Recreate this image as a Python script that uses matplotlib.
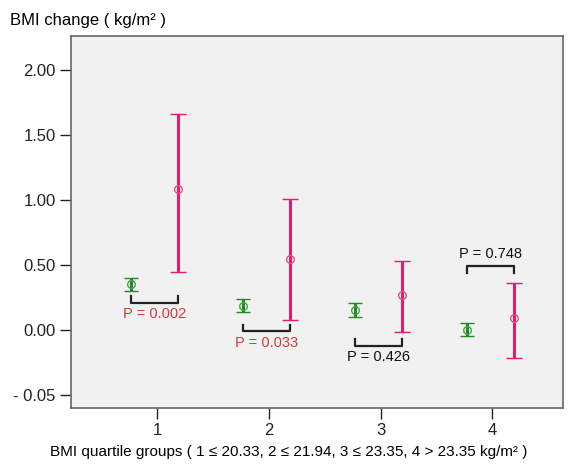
import numpy as np
import matplotlib.pyplot as plt

plt.rcParams['font.family'] = ['Liberation Sans', 'DejaVu Sans']

# quartile groups
groups = [1, 2, 3, 4]

# green series: mean and 95% CI bounds
green_mean = [0.35, 0.185, 0.155, 0.00]
green_low = [0.30, 0.14, 0.10, -0.05]
green_high = [0.40, 0.24, 0.21, 0.05]

# pink series: mean and 95% CI bounds
pink_mean = [1.085, 0.545, 0.27, 0.09]
pink_low = [0.445, 0.077, -0.015, -0.215]
pink_high = [1.66, 1.005, 0.53, 0.36]

# p values and bracket levels
p_labels = ['P = 0.002', 'P = 0.033', 'P = 0.426', 'P = 0.748']
p_significant = [True, True, False, False]
bracket_y = [0.26, 0.04, -0.07, 0.49]
bracket_up = [False, False, False, True]

y_ticks = [2.0, 1.5, 1.0, 0.5, 0.0, -0.5]
y_tick_labels = ['2.00', '1.50', '1.00', '0.50', '0.00', '- 0.05']

green_col = '#1e8c1e'
pink_col = '#e8196e'
p_red = '#d43a3a'

fig = plt.figure(figsize=(5.78, 4.70), dpi=100)
ax = fig.add_axes([0.1228, 0.132, 0.851, 0.791])
ax.set_facecolor('#f1f1f1')

x = np.array(groups, dtype=float)
xg = x - 0.23
xp = x + 0.19

gm = np.array(green_mean)
ax.errorbar(xg, gm, yerr=[gm - np.array(green_low), np.array(green_high) - gm],
            fmt='o', mfc='none', mec='#4aa04a', ms=5.5, mew=1.0,
            ecolor=green_col, elinewidth=2.2, capsize=5, capthick=2.2)
pm = np.array(pink_mean)
ax.errorbar(xp, pm, yerr=[pm - np.array(pink_low), np.array(pink_high) - pm],
            fmt='o', mfc='none', mec='#e0508a', ms=5.5, mew=1.0,
            ecolor=pink_col, elinewidth=2.2, capsize=5.5, capthick=2.2)

leg = 0.05
for i in range(len(groups)):
    y0 = bracket_y[i]
    if bracket_up[i]:
        ys = [y0 - leg, y0, y0, y0 - leg]
        ty = y0 + 0.04
        va = 'bottom'
    else:
        ys = [y0, y0 - leg, y0 - leg, y0]
        ty = y0 - leg - 0.035
        va = 'top'
    ax.plot([xg[i], xg[i], xp[i], xp[i]], ys, color='#222222', lw=1.6)
    ax.text((xg[i] + xp[i]) / 2, ty, p_labels[i], ha='center', va=va,
            fontsize=10.5, color=p_red if p_significant[i] else '#111111')

ax.set_xlim(0.23, 4.63)
ax.set_ylim(-0.6, 2.26)
ax.set_xticks(groups)
ax.set_xticklabels([str(g) for g in groups])
ax.set_yticks(y_ticks)
ax.set_yticklabels(y_tick_labels)
ax.tick_params(labelsize=12, colors='#222222', length=8, width=1, pad=3)

for s in ax.spines.values():
    s.set_color('#666666')
    s.set_linewidth(1.2)

fig.text(0.017, 0.957, 'BMI change ( kg/m\u00b2 )', fontsize=12, ha='left', va='center')
fig.text(0.50, 0.038, 'BMI quartile groups ( 1 \u2264 20.33, 2 \u2264 21.94, 3 \u2264 23.35, 4 > 23.35 kg/m\u00b2 )',
         fontsize=11, ha='center', va='center')

fig.savefig('out.png', dpi=100)
